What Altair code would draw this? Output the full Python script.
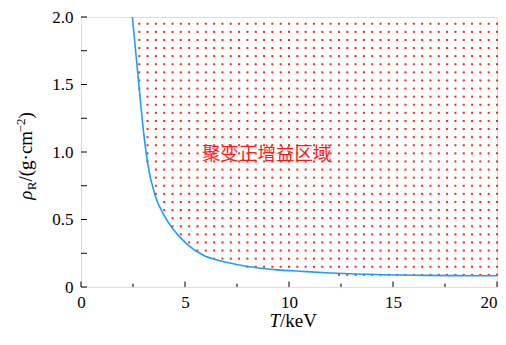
import altair as alt
import numpy as np
import pandas as pd

# Curve (T in keV, rhoR in g/cm^2)
T_curve = [2.47, 2.75, 3.0, 3.2, 3.56, 3.96, 4.44, 5.08, 5.88, 6.68, 7.49, 8.45,
           9.41, 10.5, 12.0, 13.25, 14.5, 16.5, 18.0, 20.0]
rho_curve = [2.0, 1.55, 1.16, 0.92, 0.68, 0.54, 0.426, 0.32, 0.235, 0.194, 0.167, 0.142,
             0.127, 0.117, 0.104, 0.096, 0.091, 0.086, 0.084, 0.083]

# Dotted hatch grid of the gain region
grid_T = [round(2.8 + 0.4 * k, 2) for k in range(44)]
grid_rho = [round(0.09 + 0.06 * k, 2) for k in range(32)]

x_ticks = [0, 2.5, 5, 7.5, 10, 12.5, 15, 17.5, 20]
x_major = [0, 5, 10, 15, 20]
y_ticks = [0, 0.25, 0.5, 0.75, 1.0, 1.25, 1.5, 1.75, 2.0]
y_major = [0, 0.5, 1.0, 1.5, 2.0]

region_label = "聚变正增益区域"

curve_df = pd.DataFrame({"T": T_curve, "rho": rho_curve})
TT, RR = np.meshgrid(grid_T, grid_rho)
TT = TT.ravel(); RR = RR.ravel()
bound = np.interp(TT, T_curve, rho_curve)
keep = RR >= bound - 0.012
dots_df = pd.DataFrame({"T": TT[keep], "rho": RR[keep]})

xt_df = pd.DataFrame({"v": x_ticks, "major": [v in x_major for v in x_ticks]})
yt_df = pd.DataFrame({"v": y_ticks})

xs = alt.Scale(domain=[0, 20], nice=False, zero=False)
ys = alt.Scale(domain=[0, 2], nice=False, zero=False)

SERIF = "Liberation Serif, DejaVu Serif, serif"
H = 270

x_axis = alt.Axis(values=x_major, format="d", ticks=False, domain=False, grid=False,
                  labelFont=SERIF, labelFontSize=17, labelColor="#000", labelPadding=7,
                  labelFlush=False,
                  labelAlign=alt.ExprRef(expr="datum.value == 20 ? 'right' : 'center'"),
                  title=None)
y_axis = alt.Axis(values=y_major, ticks=False, domain=False, grid=False,
                  labelExpr="datum.value == 0 ? '0' : format(datum.value, '.1f')",
                  labelFont=SERIF, labelFontSize=17, labelColor="#000", labelPadding=8,
                  title=None)

dots = alt.Chart(dots_df).mark_square(size=4, color="#ff2a00", opacity=1).encode(
    x=alt.X("T:Q", scale=xs, axis=x_axis),
    y=alt.Y("rho:Q", scale=ys, axis=y_axis),
)

curve = alt.Chart(curve_df).mark_line(color="#1e9bff", strokeWidth=1.6,
                                      interpolate="monotone", clip=True).encode(
    x=alt.X("T:Q", scale=xs), y=alt.Y("rho:Q", scale=ys))

xticks_major = alt.Chart(xt_df[xt_df.major]).mark_rule(color="#000", strokeWidth=1).encode(
    x=alt.X("v:Q", scale=xs), y=alt.value(H), y2=alt.value(H - 5.5))
xticks_minor = alt.Chart(xt_df[~xt_df.major]).mark_rule(color="#000", strokeWidth=1).encode(
    x=alt.X("v:Q", scale=xs), y=alt.value(H), y2=alt.value(H - 3.5))
yticks = alt.Chart(yt_df).mark_rule(color="#000", strokeWidth=1).encode(
    y=alt.Y("v:Q", scale=ys), x=alt.value(0), x2=alt.value(6))

label = alt.Chart(pd.DataFrame({"t": [region_label]})).mark_text(
    font="Noto Sans CJK SC", fontSize=18.5, color="#ff1a1a", align="center",
    baseline="middle").encode(x=alt.datum(8.93), y=alt.datum(0.985), text="t:N")

one = pd.DataFrame({"a": [0]})

def txt(s, x, y, size, style="normal", angle=0, align="left", baseline="alphabetic"):
    kw = dict(font=SERIF, fontSize=size, color="#000", align=align, baseline=baseline,
              fontStyle=style, text=s)
    if angle:
        kw["angle"] = angle
    return alt.Chart(one).mark_text(**kw).encode(x=alt.value(x), y=alt.value(y))

# x title "T/keV"
xt1 = txt("T", 199, 310, 19, style="italic", align="right")
xt2 = txt("/keV", 199, 310, 19, align="left")

# y title rho_R/(g·cm^-2), rotated
yt1 = txt("ρ", -49, 182.7, 19, style="italic", angle=270)
yt2 = txt("R", -45, 173.2, 13, angle=270)
yt3 = txt("/(g·cm", -49, 164.5, 19, angle=270)
yt4 = txt("−2", -56, 115.4, 13, angle=270)
yt5 = txt(")", -49, 101.6, 19, angle=270)

chart = alt.layer(dots, curve, xticks_major, xticks_minor, yticks, label,
                  xt1, xt2, yt1, yt2, yt3, yt4, yt5).properties(
    width=416, height=H,
    autosize=alt.AutoSizeParams(type="none"),
    padding={"left": 73, "top": 9, "right": 1, "bottom": 46},
).configure_view(stroke="#000", strokeWidth=1.3).configure(background="white")

chart.save("out.html", embed_options={"renderer": "svg", "actions": False})
